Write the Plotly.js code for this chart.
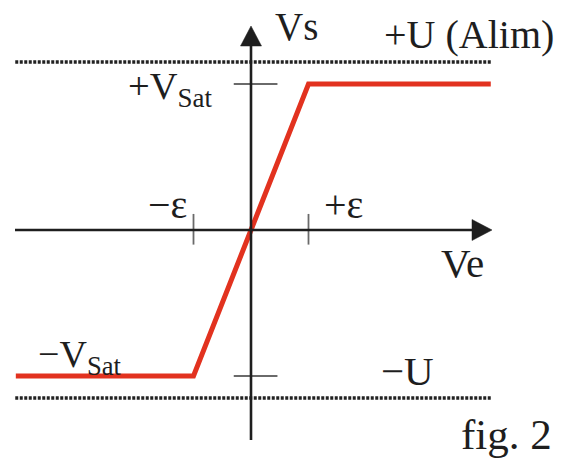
<!DOCTYPE html>
<html>
<head>
<meta charset="utf-8">
<script src="https://cdn.plot.ly/plotly-3.0.1.min.js"></script>
<style>html,body{margin:0;padding:0;background:#fff}#chart{width:563px;height:461px}</style>
</head>
<body>
<div id="chart"></div>
<script>
// Transfer characteristic (units: x in ε, y in V_Sat)
const ve = [-4.09, -1, 1, 4.17];
const vs = [-1, -1, 1, 1];
const eps = 1;          // ±ε
const vsat = 1;         // ±V_Sat
const uAlim = 1.15;     // ±U supply
const uSpan = [-4.1, 4.17];
const tickLabels = {vs: 'Vs', ve: 'Ve', uPos: '+U (Alim)', uNeg: '\u2212U',
  vsatPos: '+V<sub>Sat</sub>', vsatNeg: '\u2212V<sub>Sat</sub>',
  epsPos: '+\u03b5', epsNeg: '\u2212\u03b5', fig: 'fig. 2'};

const W = 563, H = 461;
const X0 = 251, SX = 57.5, Y0 = 230, SY = 146;
const xr = [(0 - X0) / SX, (W - X0) / SX];
const yr = [(Y0 - H) / SY, (Y0 - 0) / SY];
const px = p => p / W, py = p => 1 - p / H;
const dx = p => (p - X0) / SX, dy = p => (Y0 - p) / SY;

const ink = '#1e1e1e';
const FONT = 'Liberation Serif, Times New Roman, serif';

const traces = [];
// supply rails
[uAlim, -uAlim].forEach(u => traces.push({
  x: uSpan, y: [u, u], mode: 'lines', hoverinfo: 'skip',
  line: {color: '#222', width: 3.5, dash: '3px,1.5px'}
}));
// ticks on Ve axis
[-eps, eps].forEach(e => traces.push({
  x: [e, e], y: [-0.1, 0.11], mode: 'lines', hoverinfo: 'skip',
  line: {color: '#6a6a6a', width: 1.8}
}));
// ticks on Vs axis
[-vsat, vsat].forEach(v => traces.push({
  x: [-0.3, 0.46], y: [v, v], mode: 'lines', hoverinfo: 'skip',
  line: {color: '#6a6a6a', width: 1.8}
}));
// characteristic
traces.push({x: ve, y: vs, mode: 'lines', hoverinfo: 'skip',
  line: {color: '#e2321f', width: 5, shape: 'linear'}});

// axes (decoration) as shapes with arrowheads
const shapes = [
  {type: 'line', xref: 'x', yref: 'y', x0: 0, x1: 0, y0: dy(440), y1: dy(40),
   line: {color: ink, width: 2.6}},
  {type: 'line', xref: 'x', yref: 'y', x0: dx(15), x1: dx(480), y0: 0, y1: 0,
   line: {color: ink, width: 2.6}},
  {type: 'path', xref: 'x', yref: 'y',
   path: `M${dx(251)},${dy(26)} L${dx(240.5)},${dy(46)} L${dx(261.5)},${dy(46)} Z`,
   fillcolor: ink, line: {color: ink, width: 0.5}},
  {type: 'path', xref: 'x', yref: 'y',
   path: `M${dx(492)},${dy(230)} L${dx(472)},${dy(219.5)} L${dx(472)},${dy(240.5)} Z`,
   fillcolor: ink, line: {color: ink, width: 0.5}}
];

function lab(text, left, mid, size, anchor) {
  return {text: text, xref: 'paper', yref: 'paper', x: px(left), y: py(mid),
    xanchor: anchor || 'left', yanchor: 'middle', showarrow: false,
    font: {family: FONT, size: size, color: ink}};
}

const annotations = [
  lab(tickLabels.vs, 273, 26, 39),
  lab(tickLabels.uPos, 556, 35, 40, 'right'),
  lab(tickLabels.vsatPos, 126, 89, 38.5),
  lab(tickLabels.epsNeg, 146, 204, 40),
  lab(tickLabels.epsPos, 322, 204, 40),
  lab(tickLabels.ve, 439, 263, 41),
  lab(tickLabels.vsatNeg, 36, 357, 38),
  lab(tickLabels.uNeg, 379, 371, 41),
  lab(tickLabels.fig, 459, 434, 43)
];

const layout = {
  width: W, height: H, margin: {l: 0, r: 0, t: 0, b: 0},
  paper_bgcolor: '#fff', plot_bgcolor: '#fff', showlegend: false,
  xaxis: {range: xr, visible: false, fixedrange: true},
  yaxis: {range: yr, visible: false, fixedrange: true},
  shapes: shapes,
  annotations: annotations
};
Plotly.newPlot('chart', traces, layout, {staticPlot: true, displayModeBar: false});
</script>
</body>
</html>
